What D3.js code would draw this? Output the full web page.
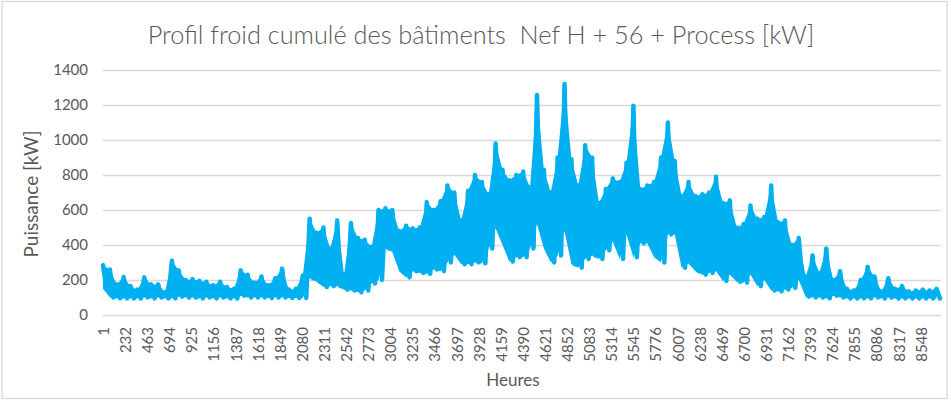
<!DOCTYPE html>
<html>
<head>
<meta charset="utf-8">
<script src="https://cdn.jsdelivr.net/npm/d3@7"></script>
<style>
  body { margin: 0; background: #fff; }
  svg { display: block; font-family: Lato, "Open Sans", sans-serif; }
</style>
</head>
<body>
<svg id="chart" width="951" height="400"></svg>
<script>
// valeurs : pointe et creux par tranche de 72 h
var pics = [285, 260, 175, 217, 165, 145, 215, 175, 175, 130,
            310, 255, 200, 205, 195, 190, 170, 190, 160, 150,
            255, 230, 185, 220, 170, 210, 265, 145, 150, 225,
            550, 470, 500, 380, 540, 230, 525, 440, 430, 390,
            600, 610, 600, 480, 510, 495, 500, 645, 600, 650,
            740, 700, 540, 710, 800, 760, 690, 980, 830, 770,
            800, 820, 730, 1257, 830, 700, 900, 1320, 890, 740,
            970, 900, 640, 720, 780, 760, 870, 1195, 720, 740,
            760, 900, 1100, 880, 680, 760, 680, 690, 700, 790,
            640, 655, 500, 520, 625, 550, 560, 740, 530, 540,
            400, 440, 220, 340, 240, 380, 200, 250, 150, 140,
            200, 275, 220, 135, 210, 150, 165, 135, 140, 145,
            140, 150];
var creux = [150, 100, 95, 95, 95, 95, 100, 95, 100, 95,
             95, 105, 100, 100, 95, 100, 95, 100, 95, 95,
             110, 100, 100, 100, 97, 100, 100, 97, 97, 97,
             210, 190, 160, 165, 165, 145, 140, 130, 140, 180,
             200, 380, 360, 250, 215, 250, 240, 235, 260, 250,
             300, 345, 290, 290, 300, 295, 380, 495, 400, 305,
             330, 330, 380, 520, 380, 300, 340, 480, 290, 270,
             320, 340, 320, 370, 420, 320, 460, 330, 410, 410,
             330, 300, 460, 460, 270, 295, 250, 230, 240, 250,
             195, 230, 190, 185, 230, 165, 200, 140, 135, 145,
             155, 200, 105, 100, 100, 95, 110, 100, 95, 95,
             95, 95, 100, 95, 100, 95, 95, 95, 95, 95,
             95, 95];
var pasHeures = 72;
var nbHeures = 8760;
var etiquettesX = d3.range(1, 8549, 231);
var graduationsY = [0, 200, 400, 600, 800, 1000, 1200, 1400];

var titre = "Profil froid cumulé des bâtiments  Nef H + 56 + Process [kW]";
var titreY = "Puissance [kW]";
var titreX = "Heures";

var svg = d3.select("#chart");
var gauche = 103, droite = 941, haut = 70, bas = 315;
var gris = "#595959", grille = "#d9d9d9", bleu = "#00b0f0";

svg.append("rect")
    .attr("x", 2).attr("y", 1.5)
    .attr("width", 945).attr("height", 397)
    .attr("fill", "#fff")
    .attr("stroke", grille)
    .attr("stroke-width", 1.3);

var x = d3.scaleLinear().domain([1, nbHeures]).range([gauche, droite]);
var y = d3.scaleLinear().domain([0, 1400]).range([bas, haut]);

// grille + axe vertical
var axeY = svg.append("g")
    .attr("transform", "translate(" + gauche + ",0)")
    .call(d3.axisLeft(y).tickValues(graduationsY).tickFormat(d3.format("d"))
        .tickSize(-(droite - gauche)).tickPadding(15));
axeY.select(".domain").remove();
axeY.selectAll("line").attr("stroke", grille).attr("stroke-width", 1.4);
axeY.selectAll("text")
    .attr("fill", gris)
    .style("font-size", "15px")
    .style("font-family", "Lato, sans-serif");

// axe horizontal (etiquettes verticales)
var axeX = svg.append("g")
    .attr("transform", "translate(0," + bas + ")")
    .call(d3.axisBottom(x).tickValues(etiquettesX).tickSize(0).tickFormat(d3.format("d")));
axeX.select(".domain").remove();
axeX.selectAll("text")
    .attr("fill", gris)
    .style("font-size", "15px")
    .style("font-family", "Lato, sans-serif")
    .attr("text-anchor", "end")
    .attr("transform", "rotate(-90)")
    .attr("x", -12)
    .attr("y", 0)
    .attr("dy", "0.36em");

// série : bande pointe/creux + tracé en dents de scie
var bande = pics.map(function (p, i) {
    return { h: 1 + i * pasHeures, haut: p, bas: creux[i] };
});

svg.append("path")
    .datum(bande)
    .attr("fill", bleu)
    .attr("d", d3.area()
        .x(function (d) { return x(d.h); })
        .y0(function (d) { return y(d.bas); })
        .y1(function (d) { return y(d.haut); }));

var points = [];
pics.forEach(function (p, i) {
    points.push([1 + i * pasHeures, p]);
    points.push([1 + i * pasHeures + pasHeures / 2, creux[i]]);
});

svg.append("path")
    .datum(points)
    .attr("fill", "none")
    .attr("stroke", bleu)
    .attr("stroke-width", 4.5)
    .attr("stroke-linejoin", "round")
    .attr("stroke-linecap", "round")
    .attr("d", d3.line()
        .x(function (d) { return x(d[0]); })
        .y(function (d) { return y(d[1]); }));

// titres
var t = svg.append("text")
    .attr("x", 481).attr("y", 44)
    .attr("text-anchor", "middle")
    .attr("fill", gris)
    .style("font-size", "22px")
    .style("font-weight", 300)
    .style("white-space", "pre")
    .text(titre);
var larg = t.node().getComputedTextLength();
t.style("font-size", (22 * 667 / larg) + "px");

var ty = svg.append("text")
    .attr("transform", "translate(38,194) rotate(-90)")
    .attr("text-anchor", "middle")
    .attr("fill", gris)
    .style("font-size", "17px")
    .text(titreY);
var largY = ty.node().getComputedTextLength();
ty.style("font-size", (17 * 127 / largY) + "px");

svg.append("text")
    .attr("x", 513).attr("y", 386)
    .attr("text-anchor", "middle")
    .attr("fill", gris)
    .style("font-size", "17px")
    .text(titreX);
</script>
</body>
</html>
